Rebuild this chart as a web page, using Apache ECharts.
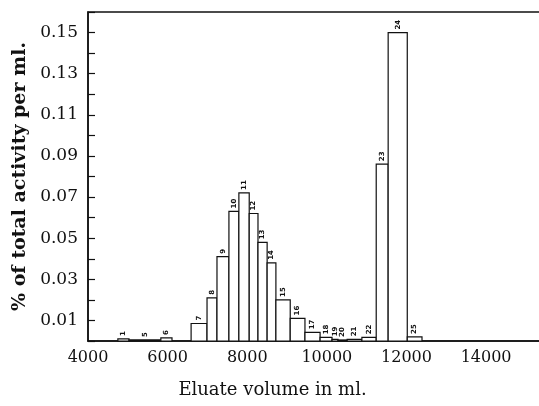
<!DOCTYPE html>
<html>
<head>
<meta charset="utf-8">
<script src="https://cdn.jsdelivr.net/npm/echarts@6/dist/echarts.min.js"></script>
<style>
  html, body { margin: 0; padding: 0; background: #fff; }
  #chart { width: 539px; height: 406px; }
</style>
</head>
<body>
<div id="chart"></div>
<script>
// fraction numbers printed above the bars
const fractions = ['1', '5', '6', '7', '8', '9', '10', '11', '12', '13', '14', '15',
  '16', '17', '18', '19', '20', '21', '22', '23', '24', '25'];
// eluate volume (ml) where each fraction starts / ends
const startVol = [4750, 5030, 5830, 6590, 6990, 7240, 7540, 7790, 8050, 8270, 8500, 8720,
  9080, 9450, 9830, 10130, 10280, 10510, 10880, 11240, 11540, 12020];
const endVol = [5030, 5830, 6110, 6990, 7240, 7540, 7790, 8050, 8270, 8500, 8720, 9080,
  9450, 9830, 10130, 10280, 10510, 10880, 11240, 11540, 12020, 12390];
// % of total activity per ml
const activity = [0.001, 0.0005, 0.0015, 0.0085, 0.021, 0.041, 0.063, 0.072, 0.062, 0.048, 0.038, 0.020,
  0.011, 0.0042, 0.0018, 0.0008, 0.0005, 0.0008, 0.0018, 0.086, 0.150, 0.002];

const xTicks = [4000, 6000, 8000, 10000, 12000, 14000];

const serif = "'DejaVu Serif', 'Liberation Serif', serif";

const data = fractions.map(function (f, i) {
  return [startVol[i], endVol[i], activity[i], f];
});

const chart = echarts.init(document.getElementById('chart'));

function renderBar(params, api) {
  const x0 = api.value(0);
  const x1 = api.value(1);
  const y = api.value(2);
  const p0 = api.coord([x0, y]);
  const p1 = api.coord([x1, 0]);
  return {
    type: 'group',
    children: [
      {
        type: 'rect',
        shape: { x: p0[0], y: p0[1], width: p1[0] - p0[0], height: p1[1] - p0[1] },
        style: { fill: '#fff', stroke: '#111', lineWidth: 1.2 }
      },
      {
        type: 'text',
        x: (p0[0] + p1[0]) / 2,
        y: p0[1] - 3,
        rotation: Math.PI / 2,
        style: {
          text: api.value(3),
          fill: '#111',
          font: "bold 7px 'DejaVu Sans', sans-serif",
          align: 'left',
          verticalAlign: 'middle'
        }
      }
    ]
  };
}

chart.setOption({
  animation: false,
  backgroundColor: '#fff',
  grid: {
    left: 88, top: 12, right: -8, bottom: 65,
    outerBoundsMode: 'none',
    containLabel: false,
    show: true, borderColor: '#111', borderWidth: 1.5, backgroundColor: 'transparent'
  },
  xAxis: {
    type: 'value',
    min: 4000,
    max: 15530,
    interval: 2000,
    name: 'Eluate volume in ml.',
    nameLocation: 'middle',
    nameGap: 40,
    nameTextStyle: { fontFamily: serif, fontSize: 18, color: '#111', padding: [0, 90, 0, 0] },
    axisLine: { show: true, lineStyle: { color: '#111', width: 1.5 } },
    axisTick: { show: false },
    splitLine: { show: false },
    axisLabel: {
      fontFamily: serif, fontSize: 16, color: '#111', margin: 9,
      formatter: function (v) { return xTicks.indexOf(v) >= 0 ? String(v) : ''; }
    }
  },
  yAxis: {
    type: 'value',
    min: 0,
    max: 0.16,
    interval: 0.01,
    name: '% of total activity per ml.',
    nameLocation: 'middle',
    nameGap: 57,
    nameTextStyle: { fontFamily: serif, fontSize: 19, fontWeight: 'bold', color: '#111' },
    axisLine: { show: true, lineStyle: { color: '#111', width: 1.5 } },
    axisTick: { show: true, inside: true, length: 7, lineStyle: { color: '#111', width: 1.2 } },
    splitLine: { show: false },
    axisLabel: {
      fontFamily: serif, fontSize: 17, color: '#111', margin: 10,
      formatter: function (v) {
        const k = Math.round(v * 100);
        return k % 2 === 1 ? v.toFixed(2) : '';
      }
    }
  },
  series: [
    {
      type: 'custom',
      renderItem: renderBar,
      encode: { x: [0, 1], y: 2 },
      data: data
    }
  ]
});
</script>
</body>
</html>
